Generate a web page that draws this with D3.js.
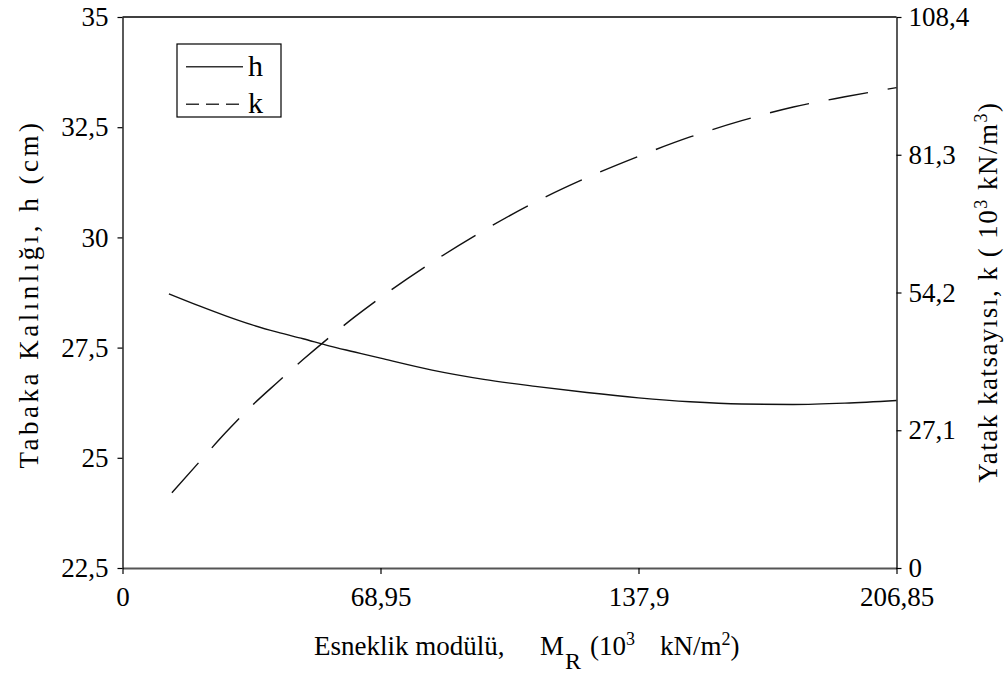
<!DOCTYPE html>
<html>
<head>
<meta charset="utf-8">
<script src="https://cdn.jsdelivr.net/npm/d3@7"></script>
<style>
  html, body { margin: 0; padding: 0; background: #fff; }
  svg text { font-family: 'Liberation Serif', 'Times New Roman', serif !important; fill: #000; white-space: pre; }
</style>
</head>
<body>
<svg id="chart" width="1007" height="679"></svg>
<script>
// Esneklik modülü (10^3 kN/m^2) for each series
const hModulus = [12.4, 20.69, 27.58, 34.47, 41.37, 48.26, 55.16, 62.05, 68.95, 82.74, 96.53, 110.32, 124.11, 137.9, 151.69, 165.48, 179.27, 193.06, 206.85];
const hThickness = [28.72, 28.44, 28.22, 28.02, 27.85, 27.70, 27.54, 27.40, 27.26, 26.99, 26.78, 26.62, 26.48, 26.36, 26.27, 26.22, 26.21, 26.24, 26.30];

const kModulus = [13.2, 20.69, 27.58, 34.47, 41.37, 48.26, 55.16, 62.05, 68.95, 82.74, 96.53, 110.32, 124.11, 137.9, 151.69, 165.48, 179.27, 193.06, 206.85];
const kSubgrade = [14.8, 21.0, 26.65, 31.86, 36.5, 41.0, 45.3, 49.4, 53.2, 60.15, 66.4, 72.0, 76.8, 81.0, 84.8, 88.0, 90.7, 92.7, 94.5];

// tick values
const xTicks = [0, 68.95, 137.9, 206.85];
const hTicks = [22.5, 25, 27.5, 30, 32.5, 35];
const kTicks = [0, 27.1, 54.2, 81.3, 108.4];

const svg = d3.select("#chart");
const plotLeft = 122.5, plotRight = 896.5, plotTop = 17, plotBottom = 568;

const x = d3.scaleLinear().domain([0, 206.85]).range([plotLeft, plotRight]);
const yH = d3.scaleLinear().domain([22.5, 35]).range([plotBottom, plotTop]);
const yK = d3.scaleLinear().domain([0, 108.4]).range([plotBottom, plotTop]);

const fmt = d => String(d).replace(".", ",");
const fontSize = 27;
const serif = "'Liberation Serif', 'Times New Roman', serif";

// frame top line
svg.append("line")
  .attr("x1", plotLeft).attr("x2", plotRight).attr("y1", plotTop).attr("y2", plotTop)
  .attr("stroke", "#000").attr("stroke-width", 1.3);

function styleAxis(g, color, width) {
  g.attr("font-family", null).attr("font-size", null);
  g.selectAll("path").attr("stroke", color).attr("stroke-width", width);
  g.selectAll("line").attr("stroke", "#000").attr("stroke-width", 1.2);
  g.selectAll("text").style("font-family", serif).style("font-size", fontSize + "px").attr("fill", "#000");
}

// bottom axis
const gx = svg.append("g").attr("transform", `translate(0,${plotBottom})`)
  .call(d3.axisBottom(x).tickValues(xTicks).tickFormat(fmt).tickSize(6).tickSizeOuter(0).tickPadding(13));
styleAxis(gx, "#555", 2);

// left axis
const gl = svg.append("g").attr("transform", `translate(${plotLeft},0)`)
  .call(d3.axisLeft(yH).tickValues(hTicks).tickFormat(fmt).tickSize(5).tickSizeOuter(0).tickPadding(9));
styleAxis(gl, "#000", 1.3);

// right axis
const gr = svg.append("g").attr("transform", `translate(${plotRight},0)`)
  .call(d3.axisRight(yK).tickValues(kTicks).tickFormat(fmt).tickSize(5).tickSizeOuter(0).tickPadding(7));
styleAxis(gr, "#000", 1.3);

// curves
const hLine = d3.line().x((d, i) => x(hModulus[i])).y(d => yH(d)).curve(d3.curveMonotoneX);
const kLine = d3.line().x((d, i) => x(kModulus[i])).y(d => yK(d)).curve(d3.curveMonotoneX);

svg.append("path").datum(hThickness).attr("d", hLine)
  .attr("fill", "none").attr("stroke", "#111").attr("stroke-width", 1.4);
svg.append("path").datum(kSubgrade).attr("d", kLine)
  .attr("fill", "none").attr("stroke", "#111").attr("stroke-width", 1.4)
  .attr("stroke-dasharray", "40,20");

// legend
const lg = svg.append("g");
lg.append("rect").attr("x", 177).attr("y", 44).attr("width", 104).attr("height", 73)
  .attr("fill", "#fff").attr("stroke", "#000").attr("stroke-width", 1.2);
lg.append("line").attr("x1", 186).attr("x2", 243).attr("y1", 66.7).attr("y2", 66.7)
  .attr("stroke", "#333").attr("stroke-width", 1.4);
lg.append("line").attr("x1", 186).attr("x2", 243).attr("y1", 104.3).attr("y2", 104.3)
  .attr("stroke", "#333").attr("stroke-width", 1.4).attr("stroke-dasharray", "13,7");
lg.append("text").attr("x", 248).attr("y", 76).style("font-size", "30px").text("h");
lg.append("text").attr("x", 248).attr("y", 113).style("font-size", "30px").text("k");

// x axis title: Esneklik modülü, M_R (10^3 kN/m^2)
const xt = svg.append("text").attr("y", 655).style("font-size", fontSize + "px");
xt.append("tspan").attr("x", 314).text("Esneklik modülü,");
xt.append("tspan").attr("x", 540).text("M");
xt.append("tspan").attr("x", 565).attr("dy", 14).style("font-size", "24px").text("R");
xt.append("tspan").attr("x", 590).attr("dy", -14).text("(10");
xt.append("tspan").attr("dy", -10).style("font-size", "18px").text("3");
xt.append("tspan").attr("x", 660).attr("dy", 10).text("kN/m");
xt.append("tspan").attr("dy", -10).style("font-size", "18px").text("2");
xt.append("tspan").attr("dy", 10).text(")");

// left axis title
svg.append("text")
  .attr("transform", `translate(38,294) rotate(-90)`)
  .attr("text-anchor", "middle").style("font-size", fontSize + "px")
  .style("letter-spacing", "3.5px")
  .text("Tabaka Kalınlığı, h (cm)");

// right axis title
const rt = svg.append("text")
  .attr("transform", `translate(997,292) rotate(-90)`)
  .attr("text-anchor", "middle").style("font-size", fontSize + "px")
  .style("letter-spacing", "1.5px");
rt.append("tspan").text("Yatak katsayısı, k ( 10");
rt.append("tspan").attr("dy", -10).style("font-size", "18px").text("3");
rt.append("tspan").attr("dy", 10).text(" kN/m");
rt.append("tspan").attr("dy", -10).style("font-size", "18px").text("3");
rt.append("tspan").attr("dy", 10).text(")");
</script>
</body>
</html>
